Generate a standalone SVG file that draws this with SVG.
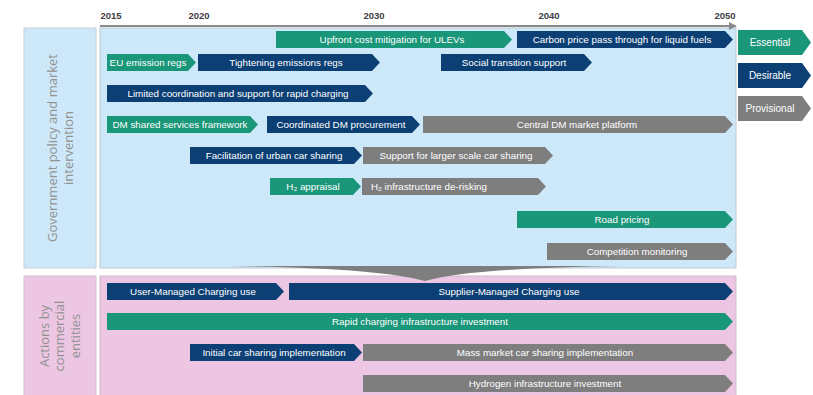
<svg xmlns="http://www.w3.org/2000/svg" width="813" height="395" viewBox="0 0 813 395">
  <style>
    .ess { fill: #1a9679; }
    .des { fill: #0c3f74; }
    .pro { fill: #7e7e7e; }
    .bar-t { font-family: "Liberation Sans", Arial, sans-serif; font-size: 9.8px; fill: #ffffff; text-anchor: middle; dominant-baseline: central; }
    .leg-t { font-family: "Liberation Sans", Arial, sans-serif; font-size: 10px; fill: #ffffff; text-anchor: middle; dominant-baseline: central; }
    .year { font-family: "Liberation Sans", Arial, sans-serif; font-size: 9.5px; font-weight: bold; fill: #404040; text-anchor: middle; }
    .side { font-family: "Open Sans", "Liberation Sans", sans-serif; font-size: 13px; fill: #929292; text-anchor: middle; }
  </style>
  <defs>
    <marker id="axis-head" viewBox="0 0 10 10" refX="9" refY="5" markerWidth="4" markerHeight="4" orient="auto">
      <path d="M0,0 L10,5 L0,10 Z" fill="#8a8a8a"/>
    </marker>
  </defs>

  <rect width="813" height="395" fill="#ffffff"/>

  <!-- panels -->
  <g id="panel-policy">
    <rect x="24" y="28" width="72" height="240" fill="#cde9f9" stroke="#c6d0d6" stroke-width="1"/>
    <rect x="100" y="28" width="636" height="240" fill="#cde9f9" stroke="#bfc7cc" stroke-width="1"/>
    <text class="side" transform="translate(57,148) rotate(-90)">Government policy and market</text>
    <text class="side" transform="translate(73,148) rotate(-90)">intervention</text>
  </g>
  <g id="panel-commercial">
    <rect x="24" y="276" width="72" height="125" fill="#ecc6e2" stroke="#d2bfcd" stroke-width="1"/>
    <rect x="100" y="276" width="636" height="125" fill="#ecc6e2" stroke="#cdbac8" stroke-width="1"/>
    <text class="side" transform="translate(49,336) rotate(-90)">Actions by</text>
    <text class="side" transform="translate(64,336) rotate(-90)">commercial</text>
    <text class="side" transform="translate(80,336) rotate(-90)">entities</text>
  </g>

  <!-- time axis -->
  <g id="axis">
    <line x1="100" y1="26" x2="736" y2="26" stroke="#8a8a8a" stroke-width="2" marker-end="url(#axis-head)"/>
    <text class="year" x="111" y="19">2015</text>
    <text class="year" x="199" y="19">2020</text>
    <text class="year" x="374" y="19">2030</text>
    <text class="year" x="549" y="19">2040</text>
    <text class="year" x="725" y="19">2050</text>
  </g>

  <!-- connector: policy feeds commercial actions -->
  <g id="connectors">
    <path d="M230,266 L622,266 Q470,268 425,281 Q380,268 230,266 Z" fill="#7e7e7e"/>
  </g>

  <!-- legend -->
  <g id="legend-essential">
    <path class="ess" d="M738,30 L802,30 L811,42.5 L802,55 L738,55 Z"/>
    <text class="leg-t" x="770" y="42.5">Essential</text>
  </g>
  <g id="legend-desirable">
    <path class="des" d="M738,63 L802,63 L811,75.5 L802,88 L738,88 Z"/>
    <text class="leg-t" x="770" y="75.5">Desirable</text>
  </g>
  <g id="legend-provisional">
    <path class="pro" d="M738,96 L802,96 L811,108.5 L802,121 L738,121 Z"/>
    <text class="leg-t" x="770" y="108.5">Provisional</text>
  </g>

  <!-- policy actions -->
  <g id="upfront-cost">
    <path class="ess" d="M276,31 L504,31 L512,39.5 L504,48 L276,48 Z"/>
    <text class="bar-t" x="392" y="39.5">Upfront cost mitigation for ULEVs</text>
  </g>
  <g id="carbon-price">
    <path class="des" d="M517,31 L725,31 L733,39.5 L725,48 L517,48 Z"/>
    <text class="bar-t" x="622" y="39.5">Carbon price pass through for liquid fuels</text>
  </g>
  <g id="eu-emission">
    <path class="ess" d="M107,54 L188,54 L196,62.5 L188,71 L107,71 Z"/>
    <text class="bar-t" x="148" y="62.5">EU emission regs</text>
  </g>
  <g id="tightening-emissions">
    <path class="des" d="M198,54 L372,54 L380,62.5 L372,71 L198,71 Z"/>
    <text class="bar-t" x="286" y="62.5">Tightening emissions regs</text>
  </g>
  <g id="social-transition">
    <path class="des" d="M441,54 L584,54 L592,62.5 L584,71 L441,71 Z"/>
    <text class="bar-t" x="514" y="62.5">Social transition support</text>
  </g>
  <g id="limited-coordination">
    <path class="des" d="M107,85 L365,85 L373,93.5 L365,102 L107,102 Z"/>
    <text class="bar-t" x="238" y="93.5">Limited coordination and support for rapid charging</text>
  </g>
  <g id="dm-shared-services">
    <path class="ess" d="M107,116 L250,116 L258,124.5 L250,133 L107,133 Z"/>
    <text class="bar-t" x="180" y="124.5">DM shared services framework</text>
  </g>
  <g id="coordinated-dm">
    <path class="des" d="M267,116 L412,116 L420,124.5 L412,133 L267,133 Z"/>
    <text class="bar-t" x="341" y="124.5">Coordinated DM procurement</text>
  </g>
  <g id="central-dm">
    <path class="pro" d="M423,116 L725,116 L733,124.5 L725,133 L423,133 Z"/>
    <text class="bar-t" x="577" y="124.5">Central DM market platform</text>
  </g>
  <g id="urban-car-sharing">
    <path class="des" d="M190,147 L354,147 L362,155.5 L354,164 L190,164 Z"/>
    <text class="bar-t" x="274" y="155.5">Facilitation of urban car sharing</text>
  </g>
  <g id="larger-car-sharing">
    <path class="pro" d="M363,147 L545,147 L553,155.5 L545,164 L363,164 Z"/>
    <text class="bar-t" x="456" y="155.5">Support for larger scale car sharing</text>
  </g>
  <g id="h2-appraisal">
    <path class="ess" d="M270,178 L353,178 L361,186.5 L353,195 L270,195 Z"/>
    <text class="bar-t" x="313" y="186.5">H₂ appraisal</text>
  </g>
  <g id="h2-derisking">
    <path class="pro" d="M362,178 L538,178 L546,186.5 L538,195 L362,195 Z"/>
    <text class="bar-t" x="429" y="186.5">H₂ infrastructure de-risking</text>
  </g>
  <g id="road-pricing">
    <path class="ess" d="M517,211 L725,211 L733,219.5 L725,228 L517,228 Z"/>
    <text class="bar-t" x="622" y="219.5">Road pricing</text>
  </g>
  <g id="competition-monitoring">
    <path class="pro" d="M547,243 L725,243 L733,251.5 L725,260 L547,260 Z"/>
    <text class="bar-t" x="637" y="251.5">Competition monitoring</text>
  </g>

  <!-- commercial actions -->
  <g id="user-managed-charging">
    <path class="des" d="M107,283 L276,283 L284,291.5 L276,300 L107,300 Z"/>
    <text class="bar-t" x="193" y="291.5">User-Managed Charging use</text>
  </g>
  <g id="supplier-managed-charging">
    <path class="des" d="M289,283 L725,283 L733,291.5 L725,300 L289,300 Z"/>
    <text class="bar-t" x="509" y="291.5">Supplier-Managed Charging use</text>
  </g>
  <g id="rapid-charging-investment">
    <path class="ess" d="M107,313 L725,313 L733,321.5 L725,330 L107,330 Z"/>
    <text class="bar-t" x="420" y="321.5">Rapid charging infrastructure investment</text>
  </g>
  <g id="initial-car-sharing">
    <path class="des" d="M190,344 L354,344 L362,352.5 L354,361 L190,361 Z"/>
    <text class="bar-t" x="274" y="352.5">Initial car sharing implementation</text>
  </g>
  <g id="mass-market-car-sharing">
    <path class="pro" d="M363,344 L725,344 L733,352.5 L725,361 L363,361 Z"/>
    <text class="bar-t" x="545" y="352.5">Mass market car sharing implementation</text>
  </g>
  <g id="hydrogen-investment">
    <path class="pro" d="M363,375 L725,375 L733,383.5 L725,392 L363,392 Z"/>
    <text class="bar-t" x="545" y="383.5">Hydrogen infrastructure investment</text>
  </g>
</svg>
